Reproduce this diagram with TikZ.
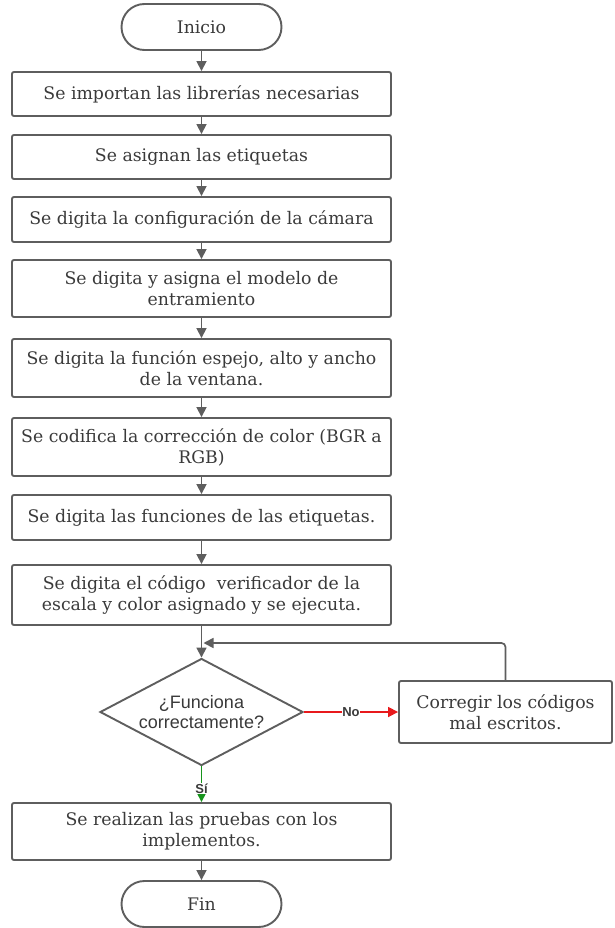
\documentclass[tikz,border=0pt]{standalone}
\usepackage{fontspec}
\setmainfont{DejaVu Serif}
\newfontfamily\diagsans{Liberation Sans}
\usetikzlibrary{shapes.geometric,arrows.meta}
\definecolor{linegray}{HTML}{5E5E5E}
\definecolor{textgray}{HTML}{3A3A3A}
\definecolor{noRed}{HTML}{E8191C}
\definecolor{siGreen}{HTML}{17941C}
\begin{document}
\begin{tikzpicture}[x=1pt, y=-1pt,
    proc/.style={draw=linegray, line width=1.9pt, rounded corners=2pt, minimum width=379pt,
        text=textgray, font=\fontsize{17.3}{21}\selectfont, align=center, inner sep=2pt},
    term/.style={draw=linegray, line width=1.9pt, rounded corners=23pt, minimum width=160pt,
        minimum height=46pt, text=textgray, font=\fontsize{17.3}{21}\selectfont},
    decision/.style={diamond, draw=linegray, line width=1.9pt, shape aspect=1.9, inner sep=0pt,
        minimum width=203pt, minimum height=107pt, text=textgray, align=center,
        font=\diagsans\fontsize{18}{20}\selectfont},
    flow/.style={draw=linegray, line width=1.7pt, -{Triangle[width=10pt,length=10pt]}},
    lbl/.style={fill=white, inner sep=0.3pt, text=textgray, font=\diagsans\bfseries\fontsize{13}{14}\selectfont}]
    \useasboundingbox (0,0) rectangle (614,928);
    % main column
    \node[term] (inicio) at (201.5,27) {Inicio};
    \node[proc, minimum height=44pt] (librerias) at (201.5,94) {Se importan las librerías necesarias};
    \node[proc, minimum height=44pt] (etiquetas) at (201.5,157) {Se asignan las etiquetas};
    \node[proc, minimum height=45pt] (camara) at (201.5,219.5) {Se digita la configuración de la cámara};
    \node[proc, minimum height=57pt] (modelo) at (201.5,288.5) {Se digita y asigna el modelo de\\entramiento};
    \node[proc, minimum height=58pt] (espejo) at (201.5,368) {Se digita la función espejo, alto y ancho\\de la ventana.};
    \node[proc, minimum height=58pt] (color) at (201.5,447) {Se codifica la corrección de color (BGR a\\RGB)};
    \node[proc, minimum height=45pt] (funciones) at (201.5,517.5) {Se digita las funciones de las etiquetas.};
    \node[proc, minimum height=60pt] (verificador) at (201.5,595) {Se digita el código~ verificador de la\\escala y color asignado y se ejecuta.};
    \node[decision] (pregunta) at (201.5,712) {¿Funciona\\correctamente?};
    \node[proc, minimum width=213pt, minimum height=62pt] (corregir) at (505.5,712) {Corregir los códigos\\mal escritos.};
    \node[proc, minimum height=57pt] (pruebas) at (201.5,831.5) {Se realizan las pruebas con los\\implementos.};
    \node[term] (fin) at (201.5,904) {Fin};
    % arrows
    \draw[flow] (inicio) -- (librerias);
    \draw[flow] (librerias) -- (etiquetas);
    \draw[flow] (etiquetas) -- (camara);
    \draw[flow] (camara) -- (modelo);
    \draw[flow] (modelo) -- (espejo);
    \draw[flow] (espejo) -- (color);
    \draw[flow] (color) -- (funciones);
    \draw[flow] (funciones) -- (verificador);
    \draw[flow] (verificador) -- (pregunta);
    \draw[flow] (pruebas) -- (fin);
    % decision branches
    \draw[flow, draw=noRed, -{Triangle[width=10pt,length=10pt,fill=noRed]}] (pregunta.east) -- node[lbl] {No} (corregir.west);
    \draw[flow, draw=siGreen, -{Triangle[width=10pt,length=10pt,fill=siGreen]}] (pregunta.south) -- node[lbl, pos=0.62] {Sí} (pruebas.north);
    % back to the question
    \coordinate (retorno) at (203.5,643);
    \draw[flow, rounded corners=4pt] (corregir.north) |- (retorno);
\end{tikzpicture}
\end{document}
